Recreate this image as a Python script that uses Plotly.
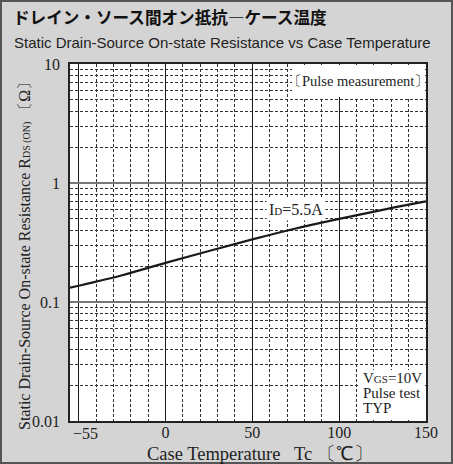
import plotly.graph_objects as go

# ---- data ----
temp_c = [-55, -25, 0, 25, 50, 75, 100, 125, 150]
rds_on = [0.132, 0.168, 0.213, 0.268, 0.336, 0.415, 0.50, 0.595, 0.70]

x_tick_vals = [-50, 0, 50, 100, 150]
x_tick_text = ["", "0", "50", "100", "150"]
x_edge_label = "−55"
y_tick_vals = [0.01, 0.1, 1, 10]
y_tick_text = ["0.01", "0.1", "1", "10"]
y_minor_vals = [m * d for d in (0.01, 0.1, 1) for m in range(2, 10)]
x_minor_vals = [v for v in range(-40, 150, 10) if v % 50 != 0]

title_jp = "ドレイン・ソース間オン抵抗―ケース温度"
title_en = "Static Drain-Source On-state Resistance vs Case Temperature"
x_title = "Case Temperature   Tc 〔℃〕"
y_title = "Static Drain-Source On-state Resistance R<span style='font-size:10px'>DS (ON)</span> 〔Ω〕"
curve_label = "I<span style='font-size:11px'>D</span>=5.5A"
box_top = "〔Pulse measurement〕"
box_bottom_lines = ["V<span style='font-size:11px'>GS</span>=10V", "Pulse test", "TYP"]

# ---- layout geometry (pixels) ----
W, H = 453, 464
L, R, T, B = 70, 426, 64, 421


def px(x):
    return (x - L) / (R - L)


def py(y):
    return (B - y) / (B - T)


SERIF = "Liberation Serif, Times New Roman, serif"
TXT = "#222"

fig = go.Figure()
fig.add_trace(go.Scatter(x=temp_c, y=rds_on, mode="lines",
                         line=dict(color="#1a1a1a", width=2.2, shape="spline"),
                         showlegend=False, hoverinfo="skip"))

fig.update_layout(
    width=W, height=H,
    margin=dict(l=L, r=W - R, t=T, b=H - B),
    paper_bgcolor="#d4d4d4",
    plot_bgcolor="white",
    showlegend=False,
    font=dict(family=SERIF, color=TXT, size=16),
)

fig.update_xaxes(
    range=[-55, 150],
    tickmode="array", tickvals=x_tick_vals, ticktext=x_tick_text,
    showgrid=True, gridcolor="#1a1a1a", gridwidth=1.3,
    minor=dict(tickmode="array", tickvals=x_minor_vals, showgrid=True,
               gridcolor="#333", griddash="3px,2px", gridwidth=1),
    showline=True, mirror=True, linecolor="#222", linewidth=1.5,
    ticks="", ticklabelstandoff=-4,
    tickfont=dict(family=SERIF, size=16, color=TXT),
    zeroline=False,
)
fig.update_yaxes(
    type="log", range=[-2, 1],
    tickmode="array", tickvals=y_tick_vals, ticktext=y_tick_text,
    showgrid=True, gridcolor="#777", gridwidth=2,
    minor=dict(tickmode="array", tickvals=y_minor_vals, showgrid=True,
               gridcolor="#333", griddash="3px,2px", gridwidth=1),
    showline=True, mirror=True, linecolor="#222", linewidth=1.5,
    ticks="", ticklabelstandoff=5,
    tickfont=dict(family=SERIF, size=16, color=TXT),
    zeroline=False,
)

ann = []
# titles
ann.append(dict(text=title_jp, xref="paper", yref="paper", x=px(11), y=py(17),
                xanchor="left", yanchor="middle", showarrow=False,
                font=dict(family="Noto Sans CJK JP", size=16.6, color="#111", weight="bold")))
ann.append(dict(text=title_en, xref="paper", yref="paper", x=px(12), y=py(42),
                xanchor="left", yanchor="middle", showarrow=False,
                font=dict(family="Liberation Sans, Arial, sans-serif",
                          size=15, color="#222")))
# axis titles
ann.append(dict(text=x_title, xref="paper", yref="paper", x=px(260), y=py(454),
                xanchor="center", yanchor="middle", showarrow=False,
                font=dict(family=SERIF, size=18.5, color=TXT)))
ann.append(dict(text=y_title, xref="paper", yref="paper", x=px(24), y=py(252),
                xanchor="center", yanchor="middle", showarrow=False, textangle=-90,
                font=dict(family=SERIF, size=16, color=TXT)))
# edge tick label
ann.append(dict(text=x_edge_label, xref="x", yref="paper", x=-55, y=0,
                xanchor="left", yanchor="top", xshift=1, yshift=-2, showarrow=False,
                font=dict(family=SERIF, size=16, color=TXT)))
# in-plot labels
ann.append(dict(text=curve_label, xref="paper", yref="paper", x=px(296), y=py(209),
                xanchor="center", yanchor="middle", showarrow=False,
                bgcolor="white", borderpad=2,
                font=dict(family=SERIF, size=16, color=TXT)))
ann.append(dict(text=box_top, xref="paper", yref="paper", x=px(358), y=py(81),
                xanchor="center", yanchor="middle", showarrow=False,
                font=dict(family=SERIF, size=14.5, color=TXT)))
for i, line in enumerate(box_bottom_lines):
    ann.append(dict(text=line, xref="paper", yref="paper", x=px(361), y=py(378 + 15 * i),
                    xanchor="left", yanchor="middle", showarrow=False,
                    font=dict(family=SERIF, size=15, color=TXT)))
fig.update_layout(annotations=ann)

# white label panels covering the grid
fig.add_shape(type="rect", xref="paper", yref="paper",
              x0=px(292), x1=px(425), y0=py(97), y1=py(65),
              line=dict(width=0), fillcolor="white", layer="above")
fig.add_shape(type="rect", xref="paper", yref="paper",
              x0=px(359), x1=px(425), y0=py(420), y1=py(370),
              line=dict(width=0), fillcolor="white", layer="above")
# outer frame of the figure
fig.add_shape(type="rect", xref="paper", yref="paper",
              x0=px(1), x1=px(W - 1), y0=py(H - 1), y1=py(1),
              line=dict(color="#555", width=2), fillcolor="rgba(0,0,0,0)", layer="below")

fig.write_html("out.html", config={"displayModeBar": False},
               post_script="document.body.style.margin='0';document.body.style.overflow='hidden';")
